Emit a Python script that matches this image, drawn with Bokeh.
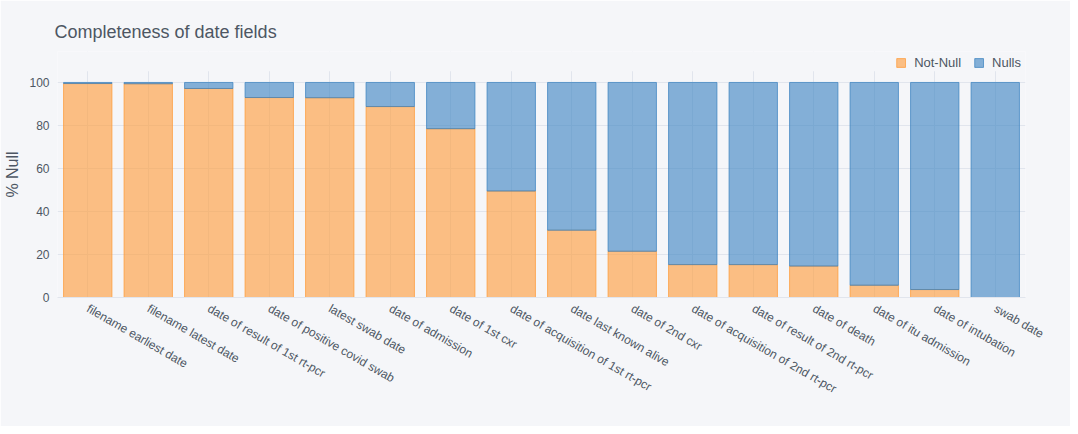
import math
from bokeh.plotting import figure
from bokeh.models import (FactorRange, Range1d, Legend, LegendItem, ColumnDataSource,
                          FixedTicker, BoxAnnotation)
from bokeh.embed import file_html
from bokeh.resources import INLINE

fields = [
    "filename earliest date", "filename latest date", "date of result of 1st rt-pcr",
    "date of positive covid swab", "latest swab date", "date of admission",
    "date of 1st cxr", "date of acquisition of 1st rt-pcr", "date last known alive",
    "date of 2nd cxr", "date of acquisition of 2nd rt-pcr", "date of result of 2nd rt-pcr",
    "date of death", "date of itu admission", "date of intubation", "swab date",
]
not_null = [99.5, 99.4, 97.2, 93.0, 92.9, 88.8, 78.5, 49.5, 31.3, 21.5, 15.3, 15.3, 14.6, 5.7, 3.7, 0.0]
nulls = [0.5, 0.6, 2.8, 7.0, 7.1, 11.2, 21.5, 50.5, 68.7, 78.5, 84.7, 84.7, 85.4, 94.3, 96.3, 100.0]
y_ticks = [0, 20, 40, 60, 80, 100]

BG = "#F5F6F9"
TXT = "#4D5663"
GRID = "#E1E5ED"
ORANGE = "#FF9933"
BLUE = "#3780BF"
FONT = "Liberation Sans"

src = ColumnDataSource(dict(field=fields, notnull=not_null, nulls=nulls))

p = figure(width=1070, height=426, x_range=FactorRange(*fields, range_padding=0),
           y_range=Range1d(0, 114.4), output_backend="svg", toolbar_location=None,
           min_border_left=57, min_border_right=45, min_border_top=51, min_border_bottom=129)
p.background_fill_color = BG
p.border_fill_color = BG
p.outline_line_color = None

stack = p.vbar_stack(["notnull", "nulls"], x="field", width=0.8, source=src,
                     color=[ORANGE, BLUE], fill_alpha=0.6, line_alpha=0.7, line_width=1)

# hide grid above the plotted area (legend strip)
p.add_layout(BoxAnnotation(bottom=105.26, fill_color=BG, fill_alpha=1.0, line_color=None))

p.title.text = "Completeness of date fields"
p.title.text_font = FONT
p.title.text_font_size = "18px"
p.title.text_font_style = "normal"
p.title.text_color = TXT
p.title.offset = -3
p.title.standoff = 19

p.xgrid.grid_line_color = GRID
p.ygrid.grid_line_color = GRID
p.yaxis.ticker = FixedTicker(ticks=y_ticks)

for ax in (p.xaxis[0], p.yaxis[0]):
    ax.axis_line_color = None
    ax.major_tick_line_color = None
    ax.minor_tick_line_color = None
    ax.major_label_text_font = FONT
    ax.major_label_text_font_size = "12px"
    ax.major_label_text_color = TXT
p.xaxis.axis_line_color = GRID
p.xaxis.major_label_orientation = -math.pi / 6
p.xaxis.major_label_standoff = 4
p.yaxis.major_label_standoff = 2
p.yaxis.axis_label = "% Null"
p.yaxis.axis_label_text_font = FONT
p.yaxis.axis_label_text_font_size = "16px"
p.yaxis.axis_label_text_font_style = "normal"
p.yaxis.axis_label_text_color = TXT
p.yaxis.axis_label_standoff = 5

legend = Legend(items=[LegendItem(label="Not-Null", renderers=[stack[0]]),
                       LegendItem(label="Nulls", renderers=[stack[1]])],
                orientation="horizontal", location="top_right",
                background_fill_alpha=0, border_line_color=None,
                label_text_font=FONT, label_text_font_size="13px", label_text_color=TXT,
                glyph_width=11, glyph_height=11, label_standoff=8, spacing=12,
                padding=3, margin=4, label_height=14)
p.add_layout(legend, "center")

open("out.html", "w").write(file_html(p, INLINE))
